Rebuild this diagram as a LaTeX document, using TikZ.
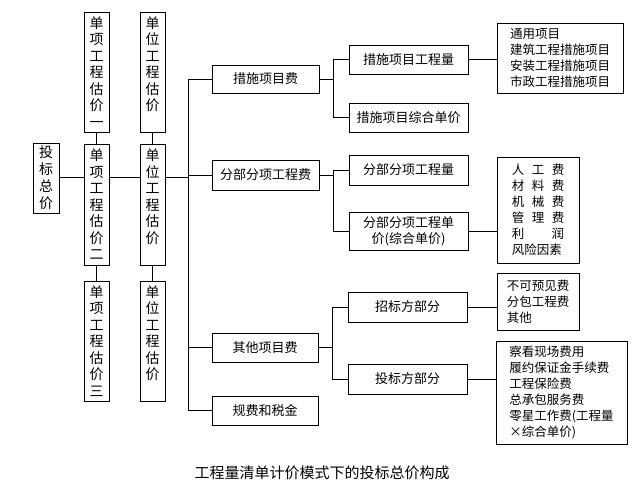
\documentclass[tikz,border=0pt]{standalone}
\usepackage{fontspec}
\setmainfont{Noto Sans CJK SC}
\begin{document}
\begin{tikzpicture}[x=1pt,y=-1pt,
 box/.style={draw,line width=0.9pt,inner sep=0pt,align=center,font=\fontsize{13}{16}\selectfont},
 vbox/.style={box,minimum width=25pt,minimum height=120pt,font=\fontsize{14}{16.5}\selectfont},
 lst/.style={draw,line width=0.9pt,inner sep=0pt,align=left,font=\fontsize{12.5}{16}\selectfont},
 ln/.style={line width=0.7pt}]
\useasboundingbox (0,0) rectangle (640,495);
\node[box,minimum width=26pt,minimum height=70pt,font=\fontsize{14}{17}\selectfont] (tb) at (46,178) {投\\标\\总\\价};
\node[vbox] (a1) at (96.5,72) {单\\项\\工\\程\\估\\价\\一};
\node[vbox,minimum height=121pt] (a2) at (96.5,204.5) {单\\项\\工\\程\\估\\价\\二};
\node[vbox] (a3) at (96.5,341) {单\\项\\工\\程\\估\\价\\三};
\node[vbox] (b1) at (152.5,72) {单\\位\\工\\程\\估\\价\\~};
\node[vbox,minimum height=121pt] (b2) at (152.5,204.5) {单\\位\\工\\程\\估\\价\\~};
\node[vbox] (b3) at (152.5,341) {单\\位\\工\\程\\估\\价\\~};
\node[box,minimum width=107pt,minimum height=28pt] (c1) at (265.5,79) {措施项目费};
\node[box,minimum width=107pt,minimum height=30pt] (c2) at (265.5,175) {分部分项工程费};
\node[box,minimum width=106pt,minimum height=29pt] (c3) at (265,347.5) {其他项目费};
\node[box,minimum width=106pt,minimum height=29pt] (c4) at (265,410.5) {规费和税金};
\node[box,minimum width=119pt,minimum height=29pt] (d1) at (408.5,59.5) {措施项目工程量};
\node[box,minimum width=119pt,minimum height=29pt] (d2) at (408.5,117.5) {措施项目综合单价};
\node[box,minimum width=119pt,minimum height=30pt] (d3) at (408.5,170) {分部分项工程量};
\node[box,minimum width=119pt,minimum height=38pt] (d4) at (408.5,231) {分部分项工程单\\价(综合单价)};
\node[box,minimum width=119pt,minimum height=30pt] (d5) at (407.5,307) {招标方部分};
\node[box,minimum width=119pt,minimum height=30pt] (d6) at (407.5,379) {投标方部分};
\node[lst,minimum width=126pt,minimum height=70pt] (e1) at (560,58) {通用项目\\建筑工程措施项目\\安装工程措施项目\\市政工程措施项目};
\node[lst,minimum width=82pt,minimum height=106pt] (e2) at (538,210) {人\hspace{0.6em}工\hspace{0.6em}费\\材\hspace{0.6em}料\hspace{0.6em}费\\机\hspace{0.6em}械\hspace{0.6em}费\\管\hspace{0.6em}理\hspace{0.6em}费\\利\hspace{2.2em}润\\风险因素};
\node[lst,minimum width=82pt,minimum height=57pt] (e3) at (538,301.5) {不可预见费\\分包工程费\\其他\hspace{3em}};
\node[lst,minimum width=131pt,minimum height=103pt] (e4) at (561.5,392.5) {察看现场费用\\履约保证金手续费\\工程保险费\\总承包服务费\\零星工作费(工程量\\×综合单价)};
\coordinate (bus) at (188,177);
\draw[ln] (tb.east |- bus) -- (a2.west |- bus);
\draw[ln] (a2.east |- bus) -- (b2.west |- bus);
\draw[ln] (a1) -- (a2); \draw[ln] (a2) -- (a3);
\draw[ln] (b1) -- (b2); \draw[ln] (b2) -- (b3);
\draw[ln] (b2.east |- bus) -- (bus);
\draw[ln] (bus |- c1) -- (bus |- c4);
\foreach \n in {c1,c2,c3,c4} \draw[ln] (bus |- \n) -- (\n.west);
\foreach \c/\p/\q/\x in {c1/d1/d2/333,c2/d3/d4/333,c3/d5/d6/332}{
 \draw[ln] (\c.east) -- (\x,0 |- \c.east);
 \draw[ln] (\x,0 |- \p) -- (\x,0 |- \q);
 \draw[ln] (\x,0 |- \p) -- (\p.west);
 \draw[ln] (\x,0 |- \q) -- (\q.west);}
\draw[ln] (d1.east) -- (d1.east -| e1.west);
\draw[ln] (d4.east) -- (d4.east -| e2.west);
\draw[ln] (d5.east) -- (d5.east -| e3.west);
\draw[ln] (d6.east) -- (d6.east -| e4.west);
\node[font=\fontsize{15}{18}\selectfont] (cap) at (322,473) {工程量清单计价模式下的投标总价构成};
\end{tikzpicture}
\end{document}
